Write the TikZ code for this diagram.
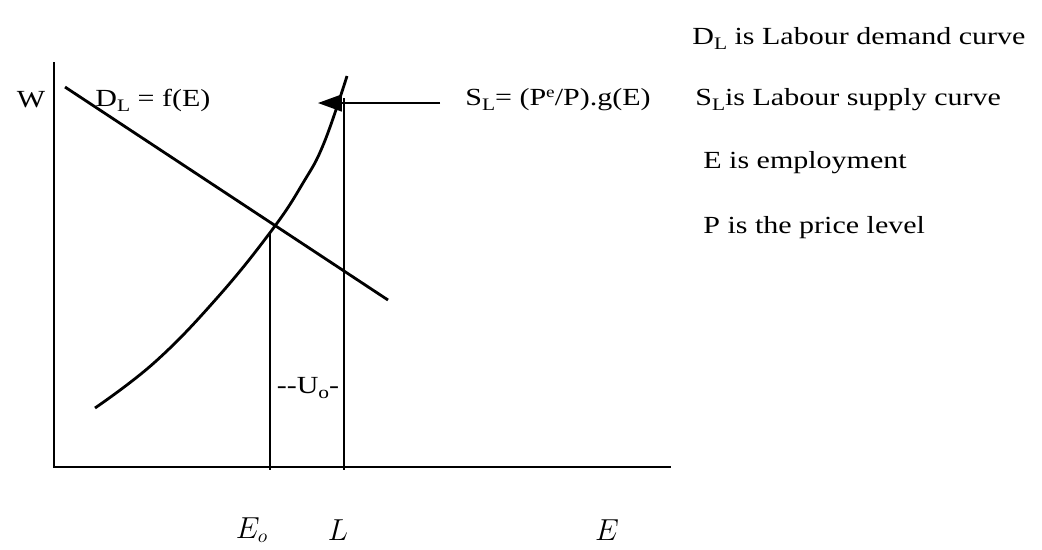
\documentclass[tikz,border=0pt]{standalone}
\usepackage{fontspec}
\setmainfont{Liberation Serif}[FakeStretch=1.22]
\usetikzlibrary{arrows.meta,positioning,calc}

\newcommand{\lowsub}[1]{\raisebox{-0.45ex}{\fontsize{10}{10}\selectfont #1}}
\newcommand{\highsup}[1]{\raisebox{0.75ex}{\fontsize{9}{9}\selectfont #1}}

\begin{document}
\begin{tikzpicture}[
  x=0.02cm, y=-0.02cm,
  >=Stealth,
  every node/.style={font=\fontsize{14}{16}\selectfont, inner sep=0pt},
  axis/.style={line width=1.6pt},
  curve/.style={line width=1.6pt},
  guide/.style={line width=1pt},
  push/.style={-{Triangle[length=4.8mm,width=3.4mm]}, line width=1pt},
  mathlbl/.style={font=\fontsize{16}{18}\selectfont}
]
\useasboundingbox (0,0) rectangle (1042,549);

% ---------- Axes ----------
\coordinate (O) at (54,467);
\coordinate (ytop) at (54,62);
\coordinate (xend) at (671,467);
\draw[axis] (ytop) -- (O) -- (xend);

% ---------- Demand and supply curves ----------
\coordinate (d0) at (65,87);
\coordinate (d1) at (388,300);
\draw[curve] (d0) -- (d1);
\draw[curve] plot[smooth, tension=0.7] coordinates
  {(95,408) (155,362) (217,298) (272,230) (303,183) (324,143) (347,76)};

% ---------- Employment guides ----------
\coordinate (eq) at (270,232);
\coordinate (eqb) at (270,470);
\coordinate (lt) at (344,98);
\coordinate (lb) at (344,470);
\draw[guide] (eq) -- (eqb);
\draw[guide] (lt) -- (lb);

% ---------- Supply label arrow ----------
\coordinate (atail) at (440,103);
\coordinate (atip) at (318,103);
\draw[push] (atail) -- (atip);

% ---------- Labels ----------
\node (wlab) at (31,100) {W};
\node[anchor=west] (dlab) at (95,100) {D\lowsub{L} = f(E)};
\node[anchor=west] (slab) at (465,100) {S\lowsub{L}= (P\highsup{e}/P).g(E)};
\node (ugap) at (308,388) {-{}-U\lowsub{o}-};

\node[mathlbl] (eo) at (252,530) {$E_o$};
\node[mathlbl] (ll) at (338,530) {$L$};
\node[mathlbl] (ee) at (607,530) {$E$};

% ---------- Legend ----------
\node[anchor=west] (leg1) at (692,38) {D\lowsub{L} is Labour demand curve};
\node[anchor=west] (leg2) at (695,100) {S\lowsub{L}is Labour supply curve};
\node[anchor=west] (leg3) at (703,163) {E is employment};
\node[anchor=west] (leg4) at (703,228) {P is the price level};

\end{tikzpicture}
\end{document}
